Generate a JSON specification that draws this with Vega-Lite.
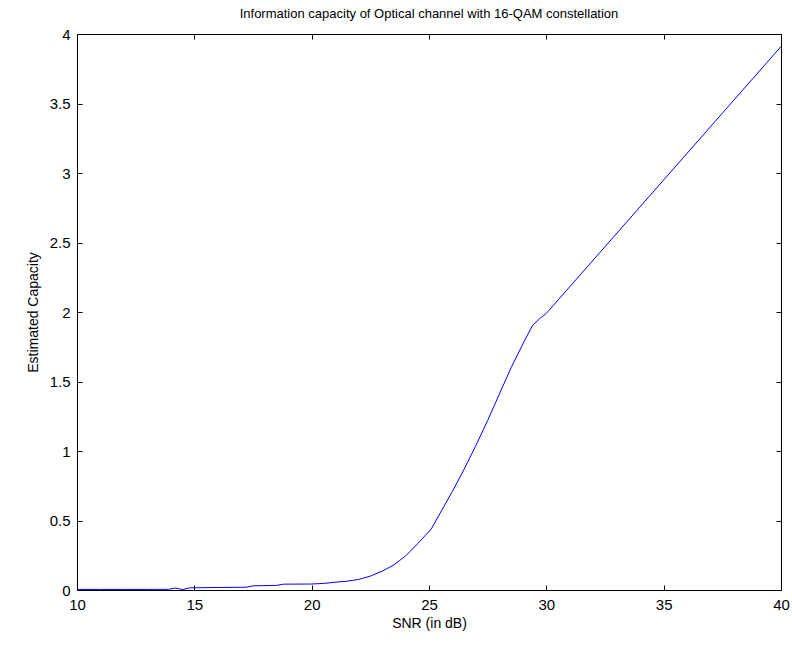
{
  "$schema": "https://vega.github.io/schema/vega-lite/v6.json",
  "width": 704,
  "height": 556,
  "autosize": {"type": "none"},
  "padding": {"left": 77, "top": 34, "right": 11, "bottom": 56},
  "background": "white",
  "config": {
    "view": {"stroke": "#000", "strokeWidth": 1},
    "font": "Liberation Sans"
  },
  "title": {
    "text": "Information capacity of Optical channel with 16-QAM constellation",
    "font": "Liberation Sans",
    "fontSize": 13,
    "fontWeight": "normal",
    "color": "#000",
    "anchor": "middle",
    "offset": 6
  },
  "data": {
    "values": [
      {"snr": 10, "cap": 0.004},
      {"snr": 11, "cap": 0.004},
      {"snr": 12, "cap": 0.004},
      {"snr": 13, "cap": 0.004},
      {"snr": 13.9, "cap": 0.005},
      {"snr": 14.2, "cap": 0.014},
      {"snr": 14.5, "cap": 0.003},
      {"snr": 14.8, "cap": 0.015},
      {"snr": 15, "cap": 0.016},
      {"snr": 16, "cap": 0.018},
      {"snr": 17.2, "cap": 0.02},
      {"snr": 17.5, "cap": 0.03},
      {"snr": 18.5, "cap": 0.033},
      {"snr": 18.8, "cap": 0.042},
      {"snr": 20, "cap": 0.043},
      {"snr": 20.5, "cap": 0.047},
      {"snr": 21, "cap": 0.056},
      {"snr": 21.5, "cap": 0.063},
      {"snr": 22, "cap": 0.076},
      {"snr": 22.5, "cap": 0.1},
      {"snr": 23, "cap": 0.135},
      {"snr": 23.5, "cap": 0.18},
      {"snr": 24, "cap": 0.245},
      {"snr": 24.5, "cap": 0.33},
      {"snr": 25.1, "cap": 0.44},
      {"snr": 25.5, "cap": 0.56},
      {"snr": 26, "cap": 0.71},
      {"snr": 26.5, "cap": 0.87},
      {"snr": 27, "cap": 1.04},
      {"snr": 27.5, "cap": 1.22},
      {"snr": 28, "cap": 1.41},
      {"snr": 28.5, "cap": 1.6},
      {"snr": 29, "cap": 1.77},
      {"snr": 29.4, "cap": 1.9},
      {"snr": 29.7, "cap": 1.95},
      {"snr": 30, "cap": 1.99},
      {"snr": 35, "cap": 2.95},
      {"snr": 40, "cap": 3.91}
    ]
  },
  "layer": [
    {
      "mark": {"type": "line", "color": "#0000ff", "strokeWidth": 1, "clip": true},
      "encoding": {
        "x": {
          "field": "snr", "type": "quantitative",
          "scale": {"domain": [10, 40], "nice": false, "zero": false},
          "axis": {
            "orient": "bottom",
            "title": "SNR (in dB)",
            "titleFont": "Liberation Sans",
            "titleFontSize": 14,
            "titleFontWeight": "normal",
            "titleColor": "#000",
            "titlePadding": 4,
            "values": [10, 15, 20, 25, 30, 35, 40],
            "format": ".1~f",
            "labelFont": "Liberation Sans",
            "labelFontSize": 15,
            "labelColor": "#000",
            "labelPadding": 12,
            "labelFlush": false,
            "tickSize": -5,
            "tickColor": "#000",
            "domain": false,
            "grid": false
          }
        },
        "y": {
          "field": "cap", "type": "quantitative",
          "scale": {"domain": [0, 4], "nice": false},
          "axis": {
            "orient": "left",
            "title": "Estimated Capacity",
            "titleFont": "Liberation Sans",
            "titleFontSize": 14,
            "titleFontWeight": "normal",
            "titleColor": "#000",
            "titlePadding": 9,
            "values": [0, 0.5, 1, 1.5, 2, 2.5, 3, 3.5, 4],
            "format": ".1~f",
            "labelFont": "Liberation Sans",
            "labelFontSize": 15,
            "labelColor": "#000",
            "labelPadding": 12,
            "labelFlush": false,
            "tickSize": -5,
            "tickColor": "#000",
            "domain": false,
            "grid": false
          }
        }
      }
    },
    {
      "mark": {"type": "line", "opacity": 0},
      "encoding": {
        "x": {
          "field": "snr", "type": "quantitative",
          "axis": {
            "orient": "top",
            "title": null,
            "labels": false,
            "values": [10, 15, 20, 25, 30, 35, 40],
            "tickSize": -5,
            "tickColor": "#000",
            "domain": false,
            "grid": false
          }
        },
        "y": {
          "field": "cap", "type": "quantitative",
          "axis": {
            "orient": "right",
            "title": null,
            "labels": false,
            "values": [0, 0.5, 1, 1.5, 2, 2.5, 3, 3.5, 4],
            "tickSize": -5,
            "tickColor": "#000",
            "domain": false,
            "grid": false
          }
        }
      }
    }
  ],
  "resolve": {"axis": {"x": "independent", "y": "independent"}}
}
